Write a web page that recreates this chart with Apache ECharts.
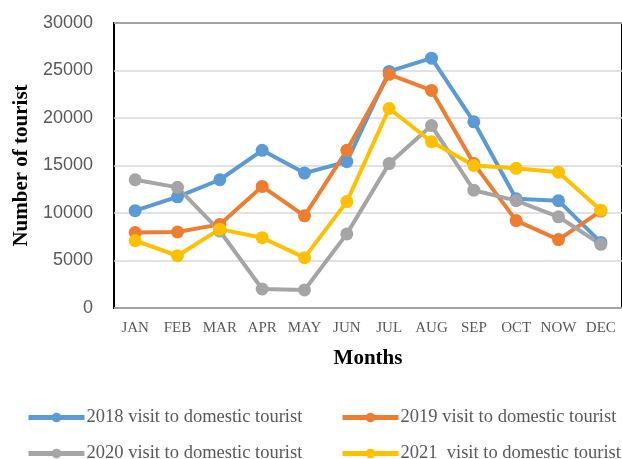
<!DOCTYPE html>
<html><head><meta charset="utf-8">
<script src="https://cdn.jsdelivr.net/npm/echarts@6/dist/echarts.min.js"></script>
<style>html,body{margin:0;padding:0;background:#fff}#c{width:622px;height:459px}</style>
</head><body><div id="c"></div>
<script>
var months = ['JAN','FEB','MAR','APR','MAY','JUN','JUL','AUG','SEP','OCT','NOW','DEC'];
var yTicks = [0,5000,10000,15000,20000,25000,30000];
var names = ['2018 visit to domestic tourist','2019 visit to domestic tourist','2020 visit to domestic tourist','2021  visit to domestic tourist'];
var v2018 = [10250,11700,13500,16600,14200,15400,24900,26300,19600,11500,11300,6900];
var v2019 = [7950,8000,8800,12800,9700,16600,24600,22900,15200,9200,7200,10200];
var v2020 = [13500,12700,8100,2000,1900,7800,15200,19200,12400,11300,9600,6700];
var v2021 = [7100,5500,8300,7400,5300,11200,21000,17500,15000,14700,14300,10300];
var colors = ['#5b9bd5','#ed7d31','#a5a5a5','#ffc000'];
var seriesData = [v2018,v2019,v2020,v2021];

var chart = echarts.init(document.getElementById('c'));
var serif = '"Liberation Serif", "Times New Roman", serif';
var legendPos = [[26,408],[340,408],[26,444],[340,444]];
chart.setOption({
  animation:false,
  grid:{left:114,top:23,width:509,height:285,show:true,borderColor:'#000',borderWidth:2,backgroundColor:'transparent'},
  legend: names.map(function(n,i){return {
    data:[n], left:legendPos[i][0], top:legendPos[i][1], padding:0, itemWidth:56, itemHeight:12, itemGap:0,
    lineStyle:{width:5},
    textStyle:{fontFamily:serif,fontSize:18.5,color:'#595959',padding:[0,0,0,-3]}
  };}),
  xAxis:{type:'category',data:months,boundaryGap:true,
    axisLine:{show:false},axisTick:{show:false},
    axisLabel:{fontFamily:serif,fontSize:15,color:'#595959',margin:13,interval:0},
    name:'Months',nameLocation:'middle',nameGap:40,
    nameTextStyle:{fontFamily:serif,fontSize:21,fontWeight:'bold',color:'#000'}},
  yAxis:{type:'value',min:yTicks[0],max:yTicks[yTicks.length-1],interval:5000,
    axisLine:{show:false},axisTick:{show:false},
    splitLine:{lineStyle:{color:'#d9d9d9',width:1.5}},
    axisLabel:{fontFamily:'"Liberation Sans", Arial, sans-serif',fontSize:18,color:'#595959',margin:21,
      formatter:function(v){return String(v);}},
    name:'Number of tourist',nameLocation:'middle',nameGap:82,
    nameTextStyle:{fontFamily:serif,fontSize:21,fontWeight:'bold',color:'#000'}},
  series: names.map(function(n,i){return {
    name:n,type:'line',data:seriesData[i],symbol:'circle',symbolSize:13,
    lineStyle:{width:4,color:colors[i]},itemStyle:{color:colors[i]}
  };})
});
</script></body></html>
